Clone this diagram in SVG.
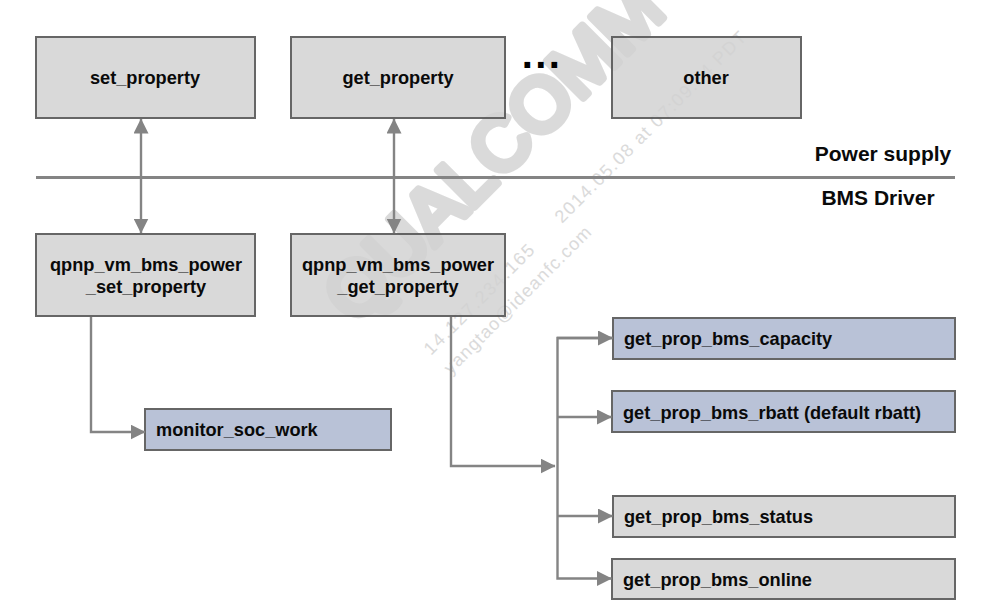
<svg xmlns="http://www.w3.org/2000/svg" width="987" height="614" viewBox="0 0 987 614">
<style>
text{font-family:"Liberation Sans",Arial,sans-serif}
.b{stroke:#666;stroke-width:2}
.g{fill:#d9d9d9}
.v{fill:#b9c2d7}
.t{font-size:18.2px;font-weight:bold;fill:#0a0a0a}
.h{font-size:21px;font-weight:bold;fill:#0a0a0a;text-anchor:middle}
.m{text-anchor:middle}
.c{fill:none;stroke:#848484;stroke-width:2.4}
.wm{font-size:75px;stroke-width:8;stroke-linejoin:round}
.ws{font-size:18px}
</style>
<defs>
<marker id="a" markerUnits="userSpaceOnUse" markerWidth="15" markerHeight="15" refX="14.500" refY="7.500" orient="auto-start-reverse"><path d="M0 0L15 7.500L0 15Z" fill="#848484"/></marker>
<g id="wmk">
<text class="wm" stroke="currentColor" fill="currentColor" transform="translate(355 326) rotate(-45)">QUALCOMM</text>
<text class="ws" fill="currentColor" transform="translate(562 224) rotate(-45)" textLength="262">2014.05.08 at 07:09:34 PDT</text>
<text class="ws" fill="currentColor" transform="translate(431 356) rotate(-45)" textLength="148">14.127.234.165</text>
<text class="ws" fill="currentColor" transform="translate(451 375) rotate(-45)" textLength="200">yangtao@ideanfc.com</text>
</g>
</defs>
<rect width="987" height="614" fill="#fff"/>
<g id="watermark" color="#e1e1e1"><use href="#wmk"/></g>
<g id="set_property"><rect class="b g" x="36" y="37" width="219" height="81"/><text class="t m" x="145" y="84">set_property</text></g>
<g id="get_property"><rect class="b g" x="291" y="37" width="214" height="81"/><text class="t m" x="398" y="84">get_property</text></g>
<g id="other"><rect class="b g" x="612" y="37" width="189" height="81"/><text class="t m" x="706" y="84">other</text></g>
<g id="ellipsis"><text x="542" y="68" font-size="40" letter-spacing="2.4" font-weight="bold" text-anchor="middle" fill="#000">...</text></g>
<g id="label_power"><text class="h" x="883" y="161">Power supply</text></g>
<g id="label_bms"><text class="h" x="878" y="205">BMS Driver</text></g>
<g id="set_fn"><rect class="b g" x="36" y="234" width="219" height="82"/><text class="t m" x="146" y="271">qpnp_vm_bms_power</text><text class="t m" x="146" y="293">_set_property</text></g>
<g id="get_fn"><rect class="b g" x="291" y="234" width="214" height="82"/><text class="t m" x="398" y="271">qpnp_vm_bms_power</text><text class="t m" x="398" y="293">_get_property</text></g>
<g id="monitor"><rect class="b v" x="145" y="409" width="246" height="41"/><text class="t" x="156" y="436">monitor_soc_work</text></g>
<g id="capacity"><rect class="b v" x="613" y="318" width="342" height="41"/><text class="t" x="624" y="345">get_prop_bms_capacity</text></g>
<g id="rbatt"><rect class="b v" x="612" y="391" width="343" height="41"/><text class="t" x="623" y="419">get_prop_bms_rbatt (default rbatt)</text></g>
<g id="status"><rect class="b g" x="613" y="496" width="342" height="41"/><text class="t" x="624" y="523">get_prop_bms_status</text></g>
<g id="online"><rect class="b g" x="612" y="559" width="343" height="40"/><text class="t" x="623" y="586">get_prop_bms_online</text></g>
<g id="watermark_over" color="#000" opacity="0.025"><use href="#wmk"/></g>
<g id="connectors">
<line class="c" x1="141" y1="119" x2="141" y2="233" marker-start="url(#a)" marker-end="url(#a)"/>
<line class="c" x1="394" y1="119" x2="394" y2="233" marker-start="url(#a)" marker-end="url(#a)"/>
<line x1="36" y1="177.500" x2="955" y2="177.500" stroke="#848484" stroke-width="3"/>
<path class="c" d="M91 317V432H145" marker-end="url(#a)"/>
<path class="c" d="M451 317V466H555" marker-end="url(#a)"/>
<path class="c" d="M612.500 338H557.500V578.500H611.500" marker-end="url(#a)"/>
<line class="c" x1="557" y1="338" x2="612.500" y2="338" marker-end="url(#a)"/>
<line class="c" x1="557" y1="417" x2="611.500" y2="417" marker-end="url(#a)"/>
<line class="c" x1="557" y1="516" x2="612.500" y2="516" marker-end="url(#a)"/>
</g>
</svg>
